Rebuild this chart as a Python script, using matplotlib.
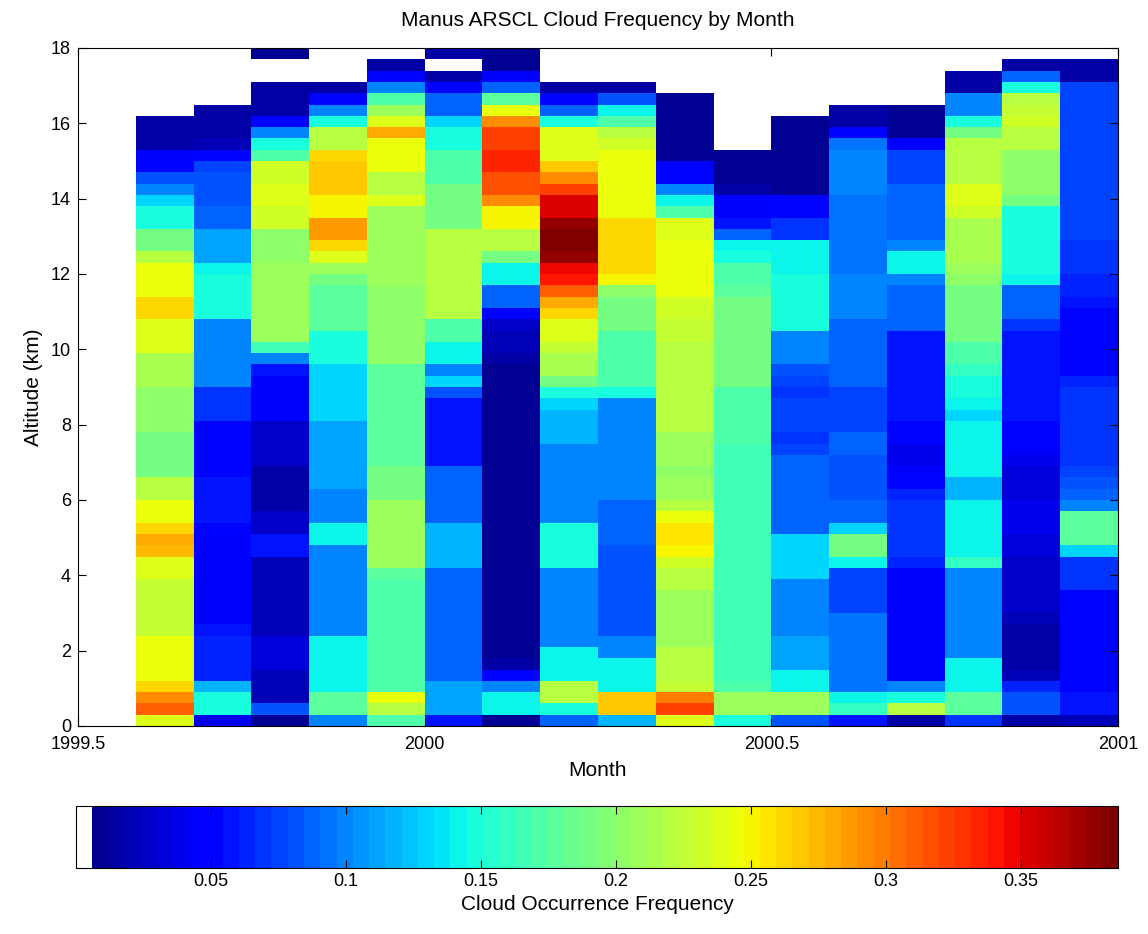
import numpy as np
import matplotlib
matplotlib.use("Agg")
import matplotlib.pyplot as plt
from matplotlib.colors import ListedColormap

plt.rcParams['font.family'] = ['Liberation Sans', 'DejaVu Sans']

# Frecuencia de nubes por mes, bins de 0.3 km desde el suelo (0-0.3 km) hasta 18 km
# 0 = sin datos / sin nubes (blanco)
aug99 = [0.24, 0.31, 0.29, 0.26, 0.245, 0.245, 0.245, 0.245, 0.225, 0.225,
         0.225, 0.225, 0.225, 0.24, 0.24, 0.275, 0.28, 0.26, 0.245, 0.245,
         0.22, 0.22, 0.19, 0.19, 0.19, 0.19, 0.2, 0.2, 0.2, 0.2,
         0.215, 0.215, 0.215, 0.24, 0.24, 0.24, 0.26, 0.265, 0.245, 0.245,
         0.245, 0.22, 0.19, 0.19, 0.15, 0.15, 0.13, 0.1, 0.08, 0.05,
         0.045, 0.015, 0.015, 0.015, 0, 0, 0, 0, 0, 0]
sep99 = [0.04, 0.15, 0.15, 0.12, 0.065, 0.065, 0.065, 0.065, 0.06, 0.045,
         0.045, 0.045, 0.045, 0.045, 0.045, 0.045, 0.045, 0.05, 0.06, 0.06,
         0.06, 0.06, 0.05, 0.05, 0.05, 0.05, 0.05, 0.07, 0.07, 0.07,
         0.1, 0.1, 0.1, 0.1, 0.1, 0.1, 0.145, 0.145, 0.145, 0.145,
         0.14, 0.11, 0.11, 0.11, 0.085, 0.085, 0.08, 0.08, 0.08, 0.075,
         0.05, 0.02, 0.015, 0.015, 0.015, 0, 0, 0, 0, 0]
oct99 = [0.01, 0.08, 0.02, 0.02, 0.02, 0.035, 0.035, 0.035, 0.02, 0.02,
         0.02, 0.02, 0.02, 0.02, 0.02, 0.055, 0.055, 0.03, 0.03, 0.015,
         0.015, 0.015, 0.015, 0.03, 0.03, 0.03, 0.03, 0.045, 0.045, 0.045,
         0.045, 0.06, 0.1, 0.165, 0.21, 0.21, 0.21, 0.21, 0.21, 0.21,
         0.21, 0.2, 0.2, 0.2, 0.235, 0.235, 0.24, 0.24, 0.235, 0.235,
         0.17, 0.15, 0.1, 0.05, 0.015, 0.015, 0.015, 0, 0, 0.01]
nov99 = [0.1, 0.18, 0.18, 0.14, 0.14, 0.14, 0.14, 0.14, 0.1, 0.1,
         0.1, 0.1, 0.1, 0.1, 0.1, 0.1, 0.14, 0.14, 0.1, 0.1,
         0.1, 0.11, 0.11, 0.11, 0.11, 0.11, 0.11, 0.13, 0.13, 0.13,
         0.13, 0.13, 0.15, 0.15, 0.15, 0.18, 0.18, 0.18, 0.18, 0.19,
         0.21, 0.24, 0.26, 0.285, 0.285, 0.25, 0.25, 0.27, 0.27, 0.27,
         0.265, 0.22, 0.22, 0.15, 0.1, 0.05, 0.015, 0, 0, 0]
dec99 = [0.17, 0.22, 0.245, 0.17, 0.17, 0.17, 0.17, 0.17, 0.17, 0.17,
         0.17, 0.17, 0.17, 0.18, 0.21, 0.21, 0.21, 0.21, 0.21, 0.21,
         0.19, 0.19, 0.19, 0.175, 0.175, 0.175, 0.175, 0.175, 0.175, 0.175,
         0.175, 0.18, 0.2, 0.2, 0.2, 0.2, 0.2, 0.2, 0.2, 0.21,
         0.21, 0.21, 0.21, 0.21, 0.21, 0.21, 0.24, 0.22, 0.22, 0.245,
         0.245, 0.245, 0.28, 0.24, 0.21, 0.17, 0.1, 0.05, 0.015, 0]
jan00 = [0.06, 0.11, 0.11, 0.11, 0.09, 0.09, 0.09, 0.09, 0.09, 0.09,
         0.09, 0.09, 0.09, 0.09, 0.12, 0.12, 0.12, 0.12, 0.09, 0.09,
         0.09, 0.09, 0.09, 0.06, 0.06, 0.06, 0.06, 0.06, 0.06, 0.08,
         0.13, 0.1, 0.14, 0.14, 0.17, 0.17, 0.22, 0.22, 0.22, 0.22,
         0.22, 0.22, 0.22, 0.22, 0.19, 0.19, 0.19, 0.19, 0.17, 0.17,
         0.17, 0.15, 0.15, 0.13, 0.09, 0.09, 0.05, 0.015, 0, 0.015]
feb00 = [0.01, 0.14, 0.14, 0.1, 0.05, 0.015, 0.012, 0.012, 0.012, 0.012,
         0.012, 0.012, 0.012, 0.012, 0.012, 0.012, 0.012, 0.012, 0.012, 0.012,
         0.012, 0.012, 0.012, 0.012, 0.012, 0.012, 0.012, 0.012, 0.012, 0.012,
         0.012, 0.012, 0.015, 0.02, 0.02, 0.025, 0.05, 0.09, 0.09, 0.14,
         0.14, 0.19, 0.22, 0.22, 0.25, 0.25, 0.29, 0.315, 0.315, 0.335,
         0.335, 0.32, 0.32, 0.29, 0.245, 0.18, 0.09, 0.045, 0.012, 0.012]
mar00 = [0.09, 0.15, 0.22, 0.22, 0.14, 0.14, 0.14, 0.1, 0.1, 0.1,
         0.1, 0.1, 0.1, 0.1, 0.145, 0.145, 0.145, 0.145, 0.1, 0.1,
         0.1, 0.1, 0.1, 0.1, 0.1, 0.12, 0.12, 0.12, 0.13, 0.15,
         0.19, 0.215, 0.215, 0.225, 0.24, 0.24, 0.26, 0.28, 0.31, 0.34,
         0.345, 0.375, 0.385, 0.385, 0.375, 0.35, 0.35, 0.32, 0.29, 0.27,
         0.24, 0.24, 0.24, 0.15, 0.09, 0.05, 0.015, 0, 0, 0]
apr00 = [0.12, 0.27, 0.27, 0.14, 0.14, 0.14, 0.1, 0.1, 0.08, 0.08,
         0.08, 0.08, 0.08, 0.08, 0.08, 0.08, 0.09, 0.09, 0.09, 0.09,
         0.1, 0.1, 0.1, 0.1, 0.1, 0.1, 0.1, 0.1, 0.1, 0.145,
         0.17, 0.17, 0.17, 0.17, 0.17, 0.19, 0.19, 0.19, 0.2, 0.25,
         0.265, 0.265, 0.265, 0.265, 0.26, 0.245, 0.245, 0.245, 0.245, 0.245,
         0.245, 0.235, 0.22, 0.17, 0.14, 0.08, 0.015, 0, 0, 0]
may00 = [0.24, 0.32, 0.3, 0.225, 0.22, 0.22, 0.22, 0.21, 0.21, 0.21,
         0.21, 0.21, 0.22, 0.22, 0.23, 0.25, 0.255, 0.255, 0.245, 0.22,
         0.21, 0.21, 0.2, 0.21, 0.21, 0.21, 0.22, 0.22, 0.22, 0.22,
         0.22, 0.22, 0.22, 0.22, 0.225, 0.225, 0.23, 0.235, 0.245, 0.245,
         0.245, 0.245, 0.245, 0.24, 0.24, 0.17, 0.14, 0.1, 0.05, 0.05,
         0.012, 0.012, 0.012, 0.012, 0.012, 0.012, 0, 0, 0, 0]
jun00 = [0.15, 0.21, 0.21, 0.17, 0.165, 0.165, 0.165, 0.165, 0.165, 0.165,
         0.165, 0.165, 0.165, 0.165, 0.165, 0.165, 0.165, 0.165, 0.165, 0.165,
         0.165, 0.165, 0.165, 0.165, 0.165, 0.17, 0.17, 0.17, 0.17, 0.17,
         0.19, 0.19, 0.19, 0.19, 0.19, 0.19, 0.19, 0.19, 0.18, 0.17,
         0.17, 0.145, 0.14, 0.09, 0.06, 0.045, 0.045, 0.015, 0.012, 0.012,
         0.012, 0, 0, 0, 0, 0, 0, 0, 0, 0]
jul00 = [0.08, 0.21, 0.21, 0.14, 0.14, 0.11, 0.11, 0.11, 0.1, 0.1,
         0.1, 0.1, 0.1, 0.13, 0.13, 0.13, 0.13, 0.09, 0.09, 0.085,
         0.085, 0.085, 0.085, 0.085, 0.075, 0.07, 0.075, 0.075, 0.075, 0.07,
         0.075, 0.08, 0.1, 0.1, 0.1, 0.145, 0.145, 0.145, 0.145, 0.145,
         0.14, 0.14, 0.14, 0.07, 0.07, 0.05, 0.05, 0.012, 0.012, 0.012,
         0.012, 0.012, 0.012, 0.012, 0, 0, 0, 0, 0, 0]
aug00 = [0.06, 0.16, 0.14, 0.095, 0.095, 0.095, 0.095, 0.095, 0.095, 0.095,
         0.075, 0.075, 0.075, 0.075, 0.14, 0.19, 0.19, 0.13, 0.09, 0.09,
         0.08, 0.08, 0.08, 0.08, 0.09, 0.09, 0.075, 0.075, 0.075, 0.075,
         0.09, 0.09, 0.09, 0.09, 0.09, 0.09, 0.1, 0.1, 0.1, 0.1,
         0.095, 0.095, 0.095, 0.095, 0.095, 0.095, 0.095, 0.1, 0.1, 0.1,
         0.1, 0.095, 0.05, 0.015, 0.015, 0, 0, 0, 0, 0]
sep00 = [0.015, 0.22, 0.15, 0.1, 0.045, 0.045, 0.045, 0.045, 0.045, 0.045,
         0.045, 0.045, 0.045, 0.045, 0.065, 0.07, 0.07, 0.07, 0.07, 0.07,
         0.065, 0.05, 0.045, 0.04, 0.04, 0.05, 0.05, 0.055, 0.055, 0.055,
         0.055, 0.055, 0.055, 0.06, 0.06, 0.09, 0.09, 0.09, 0.09, 0.1,
         0.14, 0.14, 0.1, 0.09, 0.09, 0.09, 0.09, 0.09, 0.075, 0.075,
         0.075, 0.045, 0.012, 0.012, 0.012, 0, 0, 0, 0, 0]
oct00 = [0.07, 0.18, 0.18, 0.14, 0.14, 0.14, 0.1, 0.1, 0.1, 0.1,
         0.1, 0.1, 0.1, 0.1, 0.16, 0.14, 0.14, 0.14, 0.14, 0.14,
         0.12, 0.12, 0.14, 0.14, 0.14, 0.14, 0.14, 0.13, 0.14, 0.15,
         0.15, 0.16, 0.17, 0.17, 0.19, 0.19, 0.19, 0.19, 0.19, 0.2,
         0.21, 0.215, 0.215, 0.215, 0.215, 0.235, 0.24, 0.24, 0.22, 0.22,
         0.22, 0.22, 0.19, 0.15, 0.1, 0.1, 0.015, 0.015, 0, 0]
nov00 = [0.015, 0.08, 0.08, 0.065, 0.02, 0.015, 0.015, 0.015, 0.015, 0.02,
         0.025, 0.025, 0.025, 0.03, 0.03, 0.035, 0.035, 0.04, 0.04, 0.04,
         0.035, 0.035, 0.035, 0.04, 0.045, 0.05, 0.05, 0.055, 0.055, 0.055,
         0.055, 0.055, 0.055, 0.055, 0.06, 0.07, 0.09, 0.09, 0.09, 0.14,
         0.145, 0.145, 0.145, 0.145, 0.145, 0.15, 0.19, 0.2, 0.2, 0.2,
         0.2, 0.22, 0.22, 0.23, 0.225, 0.22, 0.15, 0.09, 0.015, 0]
dec00 = [0.02, 0.055, 0.055, 0.05, 0.05, 0.05, 0.05, 0.05, 0.05, 0.05,
         0.05, 0.05, 0.07, 0.07, 0.07, 0.13, 0.18, 0.18, 0.18, 0.1,
         0.09, 0.08, 0.075, 0.07, 0.07, 0.07, 0.07, 0.07, 0.07, 0.07,
         0.065, 0.05, 0.05, 0.05, 0.05, 0.05, 0.05, 0.06, 0.065, 0.065,
         0.07, 0.07, 0.07, 0.075, 0.075, 0.075, 0.075, 0.075, 0.075, 0.075,
         0.075, 0.075, 0.075, 0.075, 0.075, 0.075, 0.075, 0.015, 0.015, 0]

meses = [aug99, sep99, oct99, nov99, dec99, jan00, feb00, mar00, apr00,
         may00, jun00, jul00, aug00, sep00, oct00, nov00, dec00]

x_ticks = [1999.5, 2000, 2000.5, 2001]
x_ticklabels = ["1999.5", "2000", "2000.5", "2001"]
cb_ticks = [0.05, 0.1, 0.15, 0.2, 0.25, 0.3, 0.35]
cb_ticklabels = ["0.05", "0.1", "0.15", "0.2", "0.25", "0.3", "0.35"]

freq = np.array(meses).T  # filas = altura, columnas = mes

# bordes de las celdas: cada mes ocupa 1/12 de año, primer mes = agosto 1999
x_edges = 1999 + (7 + np.arange(len(meses) + 1)) / 12
z_edges = np.arange(freq.shape[0] + 1) * 0.3

# jet de 64 colores con el primero en blanco (como en MATLAB)
colores = plt.get_cmap('jet', 64)(np.arange(64))
colores[0] = [1, 1, 1, 1]
cmap = ListedColormap(colores)

W, H = 1148, 934
fig = plt.figure(figsize=(W / 100, H / 100), dpi=100)
ax = fig.add_axes([78 / W, 1 - 726 / H, 1040 / W, 678 / H])

malla = ax.pcolormesh(x_edges, z_edges, freq, cmap=cmap, vmin=0, vmax=0.386)

ax.set_xlim(1999.5, 2001)
ax.set_ylim(0, 18)
ax.set_xticks(x_ticks)
ax.set_xticklabels(x_ticklabels)
ax.set_yticks(range(0, 19, 2))
ax.tick_params(direction='in', top=True, right=True, length=6, width=0.8,
               labelsize=13)
ax.tick_params(axis='x', pad=7)
ax.tick_params(axis='y', pad=5)
for s in ax.spines.values():
    s.set_linewidth(0.8)
ax.set_xlabel("Month", fontsize=15, labelpad=6)
ax.set_ylabel("Altitude (km)", fontsize=15, labelpad=6)
ax.set_title("Manus ARSCL Cloud Frequency by Month", fontsize=15, pad=16)

cax = fig.add_axes([76 / W, 1 - 868 / H, 1042 / W, 62 / H])
cb = fig.colorbar(malla, cax=cax, orientation='horizontal')
cb.set_ticks(cb_ticks)
cb.set_ticklabels(cb_ticklabels)
cb.outline.set_linewidth(0.8)
cax.tick_params(direction='in', top=True, bottom=True, length=6, width=0.8,
                labelsize=13)
cb.set_label("Cloud Occurrence Frequency", fontsize=15, labelpad=4)

fig.savefig("out.png", dpi=100)
